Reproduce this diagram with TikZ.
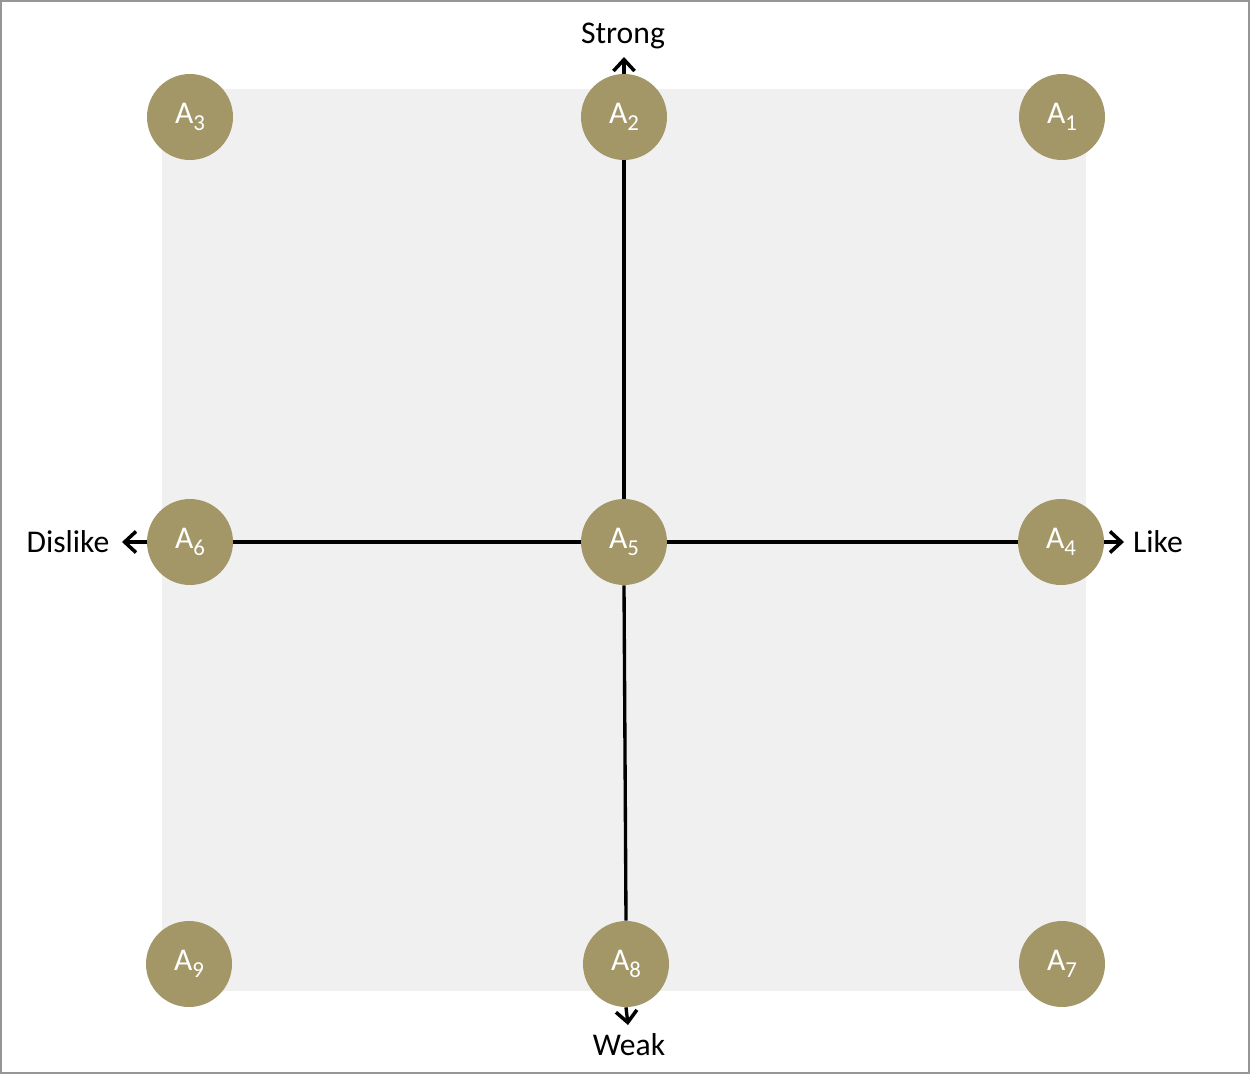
\documentclass[tikz,border=0pt]{standalone}
\usepackage{fontspec}
\setmainfont{Carlito}
\usetikzlibrary{arrows.meta}
\definecolor{khaki}{RGB}{163,151,104}
\definecolor{panel}{RGB}{240,240,240}
\definecolor{frame}{RGB}{150,150,150}
\newcommand{\asub}[1]{A\raisebox{-0.45ex}{\fontsize{13}{14}\selectfont #1}}
\begin{document}
\begin{tikzpicture}[x=0.02cm,y=-0.02cm,
  anode/.style={circle,fill=khaki,minimum size=1.72cm,inner sep=0pt,text=white,font=\fontsize{18}{20}\selectfont},
  lab/.style={font=\fontsize{18}{20}\selectfont,inner sep=1pt},
  axis/.style={line width=1.9pt},
  arr/.style={line width=1.9pt,-{Straight Barb[length=6.5pt,width=12pt,line width=2pt]}}]
\useasboundingbox (0,0) rectangle (1250,1074);
\draw[frame,line width=1.2pt] (1,1) rectangle (1249,1073);
\fill[panel] (162,89) rectangle (1086,991);
\node[anode] (A3) at (190,117) {\asub{3}};
\node[anode] (A2) at (624,117) {\asub{2}};
\node[anode] (A1) at (1062,117) {\asub{1}};
\node[anode] (A6) at (190,542) {\asub{6}};
\node[anode] (A5) at (624,542) {\asub{5}};
\node[anode] (A4) at (1061,542) {\asub{4}};
\node[anode] (A9) at (189,964) {\asub{9}};
\node[anode] (A8) at (626,964) {\asub{8}};
\node[anode] (A7) at (1062,964) {\asub{7}};
\node[lab] (S) at (623,36) {Strong};
\node[lab] (W) at (629,1045) {Weak};
\node[lab] (L) at (1158,542) {Like};
\node[lab] (D) at (68,542) {Dislike};
\coordinate (sT) at (624,57);
\coordinate (wT) at (628,1025);
\coordinate (lT) at (1124,542);
\coordinate (dT) at (122,542);
\draw[axis] (A2.south) -- (A5.north);
\draw[axis] (A5.south) -- (A8.north);
\draw[axis] (A6.east) -- (A5.west);
\draw[axis] (A5.east) -- (A4.west);
\draw[arr] (A2.north) -- (sT);
\draw[arr] (A8.south) -- (wT);
\draw[arr] (A4.east) -- (lT);
\draw[arr] (A6.west) -- (dT);
\end{tikzpicture}
\end{document}
